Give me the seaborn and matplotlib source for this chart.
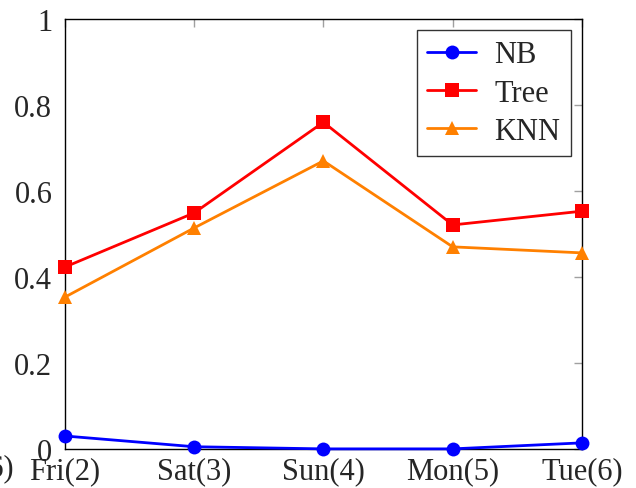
import pandas as pd
import matplotlib.pyplot as plt
import seaborn as sns

# values
days = ['Fri(2)', 'Sat(3)', 'Sun(4)', 'Mon(5)', 'Tue(6)']
nb = [0.030, 0.005, 0.0, 0.0, 0.014]
tree = [0.423, 0.549, 0.760, 0.521, 0.553]
knn = [0.353, 0.514, 0.670, 0.470, 0.456]
yticks = [0, 0.2, 0.4, 0.6, 0.8, 1]
ytick_labels = ['0', '0.2', '0.4', '0.6', '0.8', '1']

sns.set_style('white')
plt.rcParams['font.family'] = ['Liberation Serif', 'DejaVu Serif']

df = pd.DataFrame({'day': days * 3,
                   'val': nb + tree + knn,
                   'model': ['NB'] * 5 + ['Tree'] * 5 + ['KNN'] * 5})

fig = plt.figure(figsize=(6.36, 4.89), dpi=100)
ax = fig.add_axes([0.102, 0.080, 0.813, 0.879])

palette = {'NB': '#0000ff', 'Tree': '#ff0000', 'KNN': '#ff8000'}
markers = {'NB': 'o', 'Tree': 's', 'KNN': '^'}
for m in ['NB', 'Tree', 'KNN']:
    sub = df[df['model'] == m]
    sns.lineplot(data=sub, x='day', y='val', ax=ax, color=palette[m],
                 marker=markers[m], markersize=10, markeredgewidth=0,
                 linewidth=2, label=m, sort=False, clip_on=False, zorder=3)

ax.set_xlim(0, len(days) - 1)
ax.set_ylim(0, 1)
ax.set_xticks(range(len(days)))
ax.set_xticklabels(days)
ax.set_yticks(yticks)
ax.set_yticklabels(ytick_labels)
ax.set_xlabel('')
ax.set_ylabel('')
ax.tick_params(axis='both', direction='in', length=6, width=1, color='#a0a0a0',
               labelsize=22, top=True, right=True)
ax.tick_params(axis='y', pad=9)
ax.tick_params(axis='x', pad=5)
for s in ax.spines.values():
    s.set_color('black')
    s.set_linewidth(1)

leg = ax.legend(loc='upper right', fontsize=22, frameon=True, fancybox=False,
                edgecolor='black', handlelength=1.6, borderpad=0.35,
                labelspacing=0.3, handletextpad=0.6, borderaxespad=0.35)
leg.get_frame().set_linewidth(1)

# cropped label from the neighbouring panel at the left edge
fig.text(0.022, 0.012, 'Tue(6)', ha='right', va='bottom', fontsize=22)

fig.savefig('out.png', dpi=100)
